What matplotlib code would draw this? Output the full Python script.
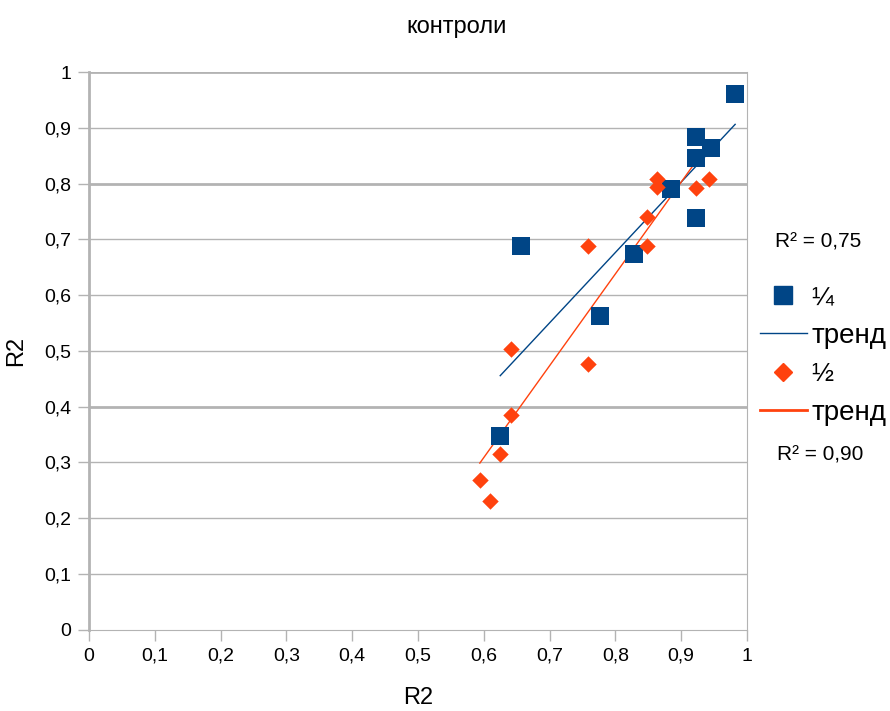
import numpy as np
import matplotlib.pyplot as plt
from matplotlib.lines import Line2D

plt.rcParams['font.family'] = ['Liberation Sans', 'DejaVu Sans']

# R2 values for the two control groups
x_quarter = [0.982, 0.923, 0.945, 0.923, 0.884, 0.923, 0.657, 0.829, 0.777, 0.625]
y_quarter = [0.960, 0.883, 0.864, 0.846, 0.791, 0.739, 0.688, 0.673, 0.562, 0.348]

x_half = [0.863, 0.863, 0.923, 0.943, 0.848, 0.759, 0.848, 0.641, 0.758, 0.641, 0.625, 0.594, 0.610]
y_half = [0.809, 0.793, 0.792, 0.809, 0.740, 0.688, 0.688, 0.503, 0.476, 0.384, 0.314, 0.269, 0.230]

r2_quarter = '0,75'
r2_half = '0,90'

blue = '#004586'
orange = '#ff420e'
grid_c = '#b3b3b3'

fig = plt.figure(figsize=(8.9, 7.11), dpi=100)
ax = fig.add_axes([0.1, 0.1146, 0.7393, 0.7841])

ax.scatter(x_quarter, y_quarter, marker='s', s=150, color=blue, linewidths=0, zorder=3)
ax.scatter(x_half, y_half, marker='D', s=70, color=orange, linewidths=0, zorder=3)

# linear trend lines over the data range
for xs, ys, c in [(x_quarter, y_quarter, blue), (x_half, y_half, orange)]:
    k, b = np.polyfit(xs, ys, 1)
    xx = np.array([min(xs), max(xs)])
    ax.plot(xx, k * xx + b, color=c, lw=1, zorder=2)

ax.set_xlim(0, 1)
ax.set_ylim(0, 1)
ticks = np.round(np.arange(0, 1.01, 0.1), 1)
ax.set_xticks(ticks)
ax.set_yticks(ticks)
fmt = lambda v: '0' if v == 0 else ('1' if v == 1 else f'{v:.1f}'.replace('.', ','))
ax.set_xticklabels([fmt(v) for v in ticks])
ax.set_yticklabels([fmt(v) for v in ticks])
ax.tick_params(axis='both', length=8, width=1, color=grid_c, labelsize=14, pad=5)

for v in ticks[1:]:
    ax.axhline(v, color=grid_c, lw=2 if v in (0.4, 0.8, 1.0) else 1, zorder=1)

ax.spines['top'].set_visible(False)
ax.spines['left'].set_color(grid_c)
ax.spines['left'].set_linewidth(2)
ax.spines['bottom'].set_color(grid_c)
ax.spines['right'].set_color(grid_c)

ax.set_xlabel('R2', fontsize=17, labelpad=16)
ax.set_ylabel('R2', fontsize=17, labelpad=12)
fig.text(0.513, 0.962, 'контроли', ha='center', va='center', fontsize=17)

handles = [
    Line2D([], [], marker='s', ls='none', color=blue, ms=13),
    Line2D([], [], color=blue, lw=1),
    Line2D([], [], marker='D', ls='none', color=orange, ms=9),
    Line2D([], [], color=orange, lw=2),
]
leg = fig.legend(handles, ['¼', 'тренд', '½', 'тренд'], loc='upper left',
                 bbox_to_anchor=(0.838, 0.618), frameon=False, fontsize=20,
                 handlelength=1.7, handletextpad=0.15, labelspacing=0.47,
                 borderpad=0)
for t, fs in zip(leg.get_texts(), [19, 20, 19, 20]):
    t.set_fontsize(fs)

fig.text(0.919, 0.66, 'R² = ' + r2_quarter, ha='center', va='center', fontsize=15)
fig.text(0.922, 0.36, 'R² = ' + r2_half, ha='center', va='center', fontsize=15)

fig.savefig('out.png', dpi=100)
